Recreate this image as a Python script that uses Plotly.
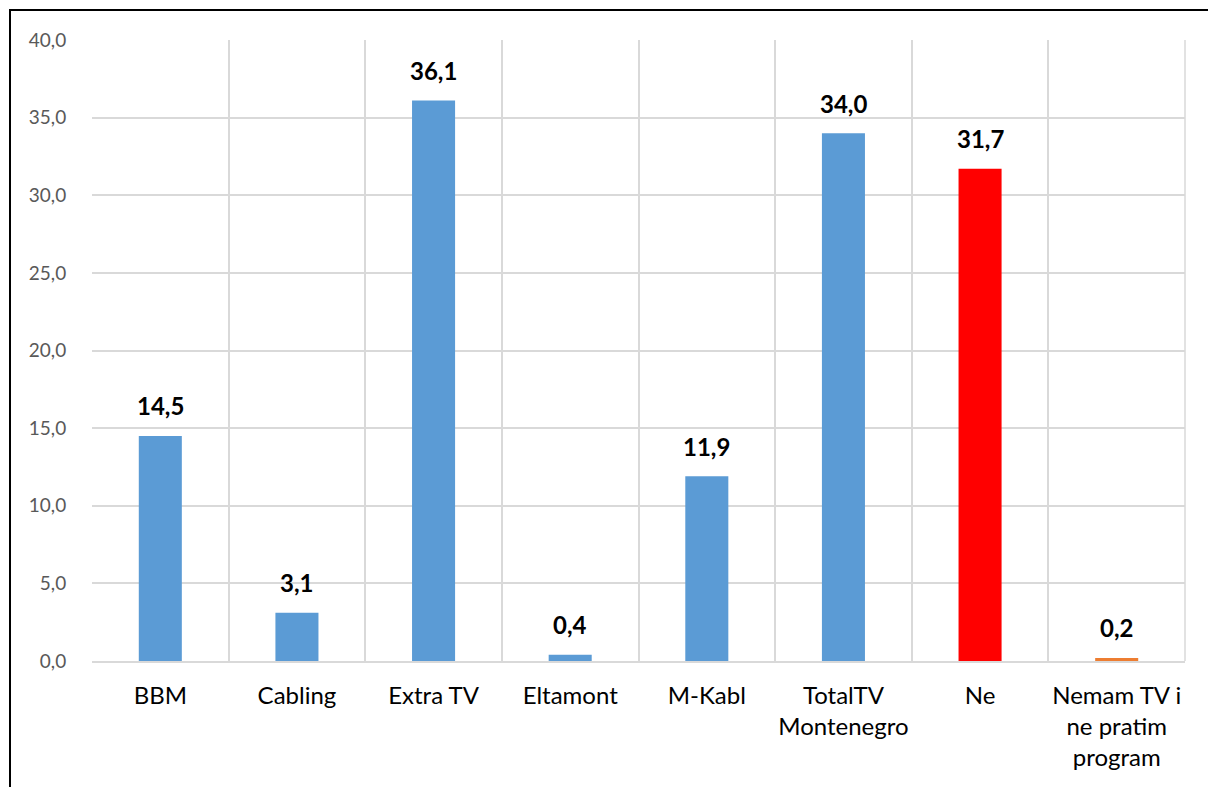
import plotly.graph_objects as go

categories = ["BBM", "Cabling", "Extra TV", "Eltamont", "M-Kabl",
              "TotalTV<br>Montenegro", "Ne", "Nemam TV i<br>ne pratim<br>program"]
values = [14.5, 3.1, 36.1, 0.4, 11.9, 34.0, 31.7, 0.2]
colors = ["#5B9BD5"] * 6 + ["#FF0000", "#ED7D31"]
y_ticks = [0, 5, 10, 15, 20, 25, 30, 35, 40]

FONT = "Lato"

fig = go.Figure()
fig.add_trace(go.Bar(x=categories, y=values, marker=dict(color=colors, line=dict(width=0)),
                     hoverinfo="skip"))

for c, v in zip(categories, values):
    fig.add_annotation(x=c, y=v, text="<b>" + f"{v:.1f}".replace(".", ",") + "</b>",
                       showarrow=False, yanchor="middle", yshift=30,
                       font=dict(family=FONT, size=24, color="#000000"))

W, H = 1208, 787
L, R, T, B = 92, 23, 40, 126
pw, ph = W - L - R, H - T - B

def px_x(x):
    return (x - L) / pw

def px_y(y):
    return 1 - (y - T) / ph

fig.add_shape(type="path", xref="paper", yref="paper",
              path=f"M {px_x(1215)} {px_y(10)} L {px_x(10)} {px_y(10)} L {px_x(10)} {px_y(800)}",
              line=dict(color="#000000", width=2))

fig.update_layout(
    width=W, height=H,
    margin=dict(l=L, r=R, t=T, b=B),
    paper_bgcolor="white", plot_bgcolor="white",
    separators=",.",
    bargap=0.685,
    showlegend=False,
    font=dict(family=FONT),
)
fig.update_xaxes(
    type="category", tickson="boundaries", showgrid=True, gridcolor="#D9D9D9", gridwidth=1.5,
    showline=True, linecolor="#D9D9D9", linewidth=1.5,
    ticks="", ticklabelstandoff=12, tickangle=0,
    tickfont=dict(family=FONT, size=24, color="#000000"),
    range=[-0.5, 7.5], fixedrange=True, automargin=False,
)
fig.update_yaxes(
    range=[0, 40], tickvals=y_ticks, tickformat=".1f",
    showgrid=True, gridcolor="#D9D9D9", gridwidth=1.5, zeroline=False,
    showline=False,
    ticks="outside", ticklen=21, tickcolor="rgba(0,0,0,0)",
    tickfont=dict(family=FONT, size=19, color="#595959"),
    fixedrange=True, automargin=False,
)
fig.add_shape(type="line", xref="paper", yref="paper", x0=1, x1=1, y0=0, y1=1,
              line=dict(color="#D9D9D9", width=1.5), layer="below")

fig.write_html("out.html", config={"displayModeBar": False},
               post_script="document.body.style.margin='0';document.body.style.overflow='hidden';")
